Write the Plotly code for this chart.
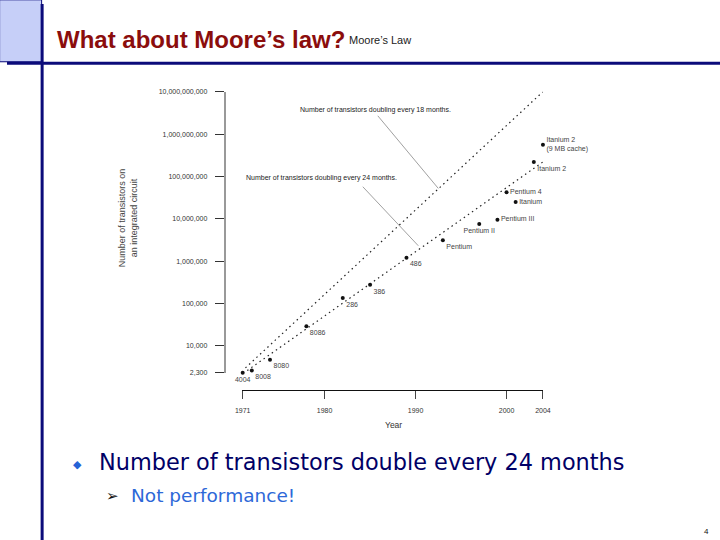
import math
import plotly.graph_objects as go

W, H = 736, 548

# Intel processors
chips = ["4004", "8008", "8080", "8086", "286", "386", "486", "Pentium",
         "Pentium II", "Pentium III", "Pentium 4", "Itanium", "Itanium 2",
         "Itanium 2<br>(9 MB cache)"]
chip_years = [1971, 1972, 1974, 1978, 1982, 1985, 1989, 1993,
              1997, 1999, 2000, 2001, 2003, 2004]
chip_transistors = [2300, 2600, 4700, 29000, 134000, 275000, 1200000, 3100000,
                    7500000, 9500000, 42000000, 25000000, 220000000, 560000000]
label_pos = ["bottom center", "bottom right", "bottom right", "bottom right",
             "bottom right", "bottom right", "bottom right", "bottom right",
             "bottom center", "middle right", "middle right", "middle right",
             "bottom right", "middle right"]

# trend lines (end points)
trend18_years = [1971.3, 2004.0]
trend18_values = [3000, 1.0e10]
trend24_years = [1971.5, 2004.0]
trend24_values = [2600, 2.2e8]

# pointer lines from the two notes to the trend lines
pointer18_years = [1985.85, 1992.5]
pointer18_values = [2.7e9, 5.2e7]
pointer24_years = [1984.2, 1990.3]
pointer24_values = [5.7e7, 2.3e6]

year_ticks = [1971, 1980, 1990, 2000, 2004]
count_ticks = [2300, 1e4, 1e5, 1e6, 1e7, 1e8, 1e9, 1e10]
count_labels = ["2,300", "10,000", "100,000", "1,000,000", "10,000,000",
                "100,000,000", "1,000,000,000", "10,000,000,000"]

FONT = "Liberation Sans, Arial, sans-serif"
NAVY = "#0b0b7a"

# the photographed page comes out slightly shrunk and shifted; these undo it
OX, SX = 6.4, 0.979
OY, SY = 3.2, 0.988


def px(x):
    return (x - OX) / SX / W


def py(y):
    return 1 - (y - OY) / SY / H


fig = go.Figure()

fig.add_trace(go.Scatter(x=trend18_years, y=trend18_values, mode="lines",
                         line=dict(color="#222", width=1.2, dash="1.5px,3.5px")))
fig.add_trace(go.Scatter(x=trend24_years, y=trend24_values, mode="lines",
                         line=dict(color="#222", width=1.2, dash="1.5px,3.5px")))
for xs, ys in [(pointer18_years, pointer18_values), (pointer24_years, pointer24_values)]:
    fig.add_trace(go.Scatter(x=xs, y=ys, mode="lines",
                             line=dict(color="#777", width=0.7)))

fig.add_trace(go.Scatter(
    x=chip_years, y=chip_transistors, mode="markers+text",
    text=chips, textposition=label_pos,
    textfont=dict(family=FONT, size=7, color="#444"),
    marker=dict(color="#111", size=4), cliponaxis=False))

fig.update_layout(
    width=W, height=H, margin=dict(l=0, r=0, t=0, b=0),
    paper_bgcolor="white", plot_bgcolor="white", showlegend=False,
    xaxis=dict(domain=[px(241.5), px(542)], range=[1970.95, 2004],
               anchor="free", position=py(390),
               tickvals=year_ticks, ticks="outside", ticklen=8, tickwidth=1,
               tickcolor="#444", showline=True, linecolor="#111", linewidth=1,
               showgrid=False, zeroline=False, ticklabelstandoff=5,
               tickfont=dict(family=FONT, size=7, color="#333")),
    yaxis=dict(domain=[py(372.5), py(91)], type="log",
               range=[math.log10(2270), 10],
               anchor="free", position=px(224),
               tickvals=count_ticks, ticktext=count_labels,
               ticks="outside", ticklen=9, tickwidth=1, tickcolor="#333",
               showline=True, linecolor="#999", linewidth=2,
               showgrid=False, zeroline=False, ticklabelstandoff=6,
               tickfont=dict(family=FONT, size=7, color="#333")),
)

# slide frame
fig.add_shape(type="rect", xref="paper", yref="paper",
              x0=px(-1), x1=px(41), y0=py(61), y1=py(-1),
              fillcolor="#c6cff8", line=dict(color=NAVY, width=1))
fig.add_shape(type="line", xref="paper", yref="paper",
              x0=px(41.5), x1=px(41.5), y0=0, y1=1,
              line=dict(color=NAVY, width=3))
fig.add_shape(type="line", xref="paper", yref="paper",
              x0=0, x1=1, y0=py(62.5), y1=py(62.5),
              line=dict(color=NAVY, width=3))


def note(text, x, y, size, color="#222", xanchor="center", family=FONT, angle=0):
    fig.add_annotation(text=text, x=px(x), y=py(y), xref="paper", yref="paper",
                       xanchor=xanchor, yanchor="middle", showarrow=False,
                       textangle=angle, font=dict(family=family, size=size, color=color))


note("<b>What about Moore’s law?</b>", 54, 39, 24, color="#8b0d0d", xanchor="left")
note("Moore’s Law", 346, 39, 11, color="#222", xanchor="left")

note("Number of transistors doubling every 18 months.", 375, 109, 7)
note("Number of transistors doubling every 24 months.", 321, 177, 7)
note("Year", 393, 425, 8.5, color="#333")
note("Number of transistors on<br>an integrated circuit", 127, 217, 9,
     color="#444", angle=-90)

note("◆", 77, 464, 11, color="#2563d6", family="DejaVu Sans")
note("Number of transistors double every 24 months", 96, 462, 22.4,
     color="#000066", xanchor="left", family="DejaVu Sans")
note("➢", 103, 496, 15, color="#111", xanchor="left", family="DejaVu Sans")
note("Not performance!", 128, 495, 18.5, color="#2d68d8", xanchor="left",
     family="DejaVu Sans")
note("4", 705, 531, 8, color="#111")

# the page body has a default margin; drop it so the figure fills the window
fig.write_html("out.html", config={"displayModeBar": False},
               post_script="document.body.style.margin = '0';"
                           "document.documentElement.style.overflow = 'hidden';")
